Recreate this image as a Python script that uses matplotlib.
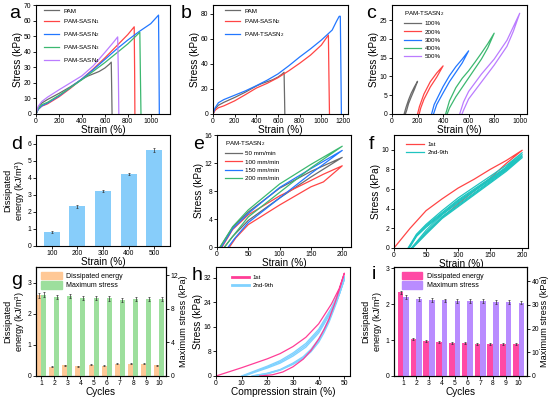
import matplotlib
matplotlib.use("Agg")
import matplotlib.pyplot as plt
from matplotlib.patches import Patch
from matplotlib.lines import Line2D

plt.rcParams['font.family'] = ['Liberation Sans', 'DejaVu Sans']
plt.rcParams['mathtext.fontset'] = 'custom'
plt.rcParams['mathtext.rm'] = 'Liberation Sans'
plt.rcParams['mathtext.it'] = 'Liberation Sans:italic'
plt.rcParams['mathtext.bf'] = 'Liberation Sans:bold'
plt.rcParams['axes.linewidth'] = 0.8

TICK = 4.9
LAB = 7.2
LAB2 = 6.6
LEG = 4.5

# ---------------- data: panel a ----------------
a_pam_x = [0, 20, 50, 100, 200, 300, 400, 450, 500, 550, 600, 640, 656, 660, 663]
a_pam_y = [0, 4, 7, 9.3, 13.2, 17.5, 22.3, 24.3, 25.8, 27.3, 29.5, 32, 33.3, 15, 0]
a_s1_x = [0, 20, 50, 100, 200, 300, 400, 500, 600, 700, 800, 856, 860, 862]
a_s1_y = [0, 3, 5, 6.5, 11, 16.5, 22.5, 29, 36, 43.5, 51, 56, 25, 0]
a_s2_x = [0, 20, 50, 100, 200, 300, 400, 500, 600, 700, 800, 900, 1000, 1068, 1072, 1075]
a_s2_y = [0, 3, 5.2, 7, 11.5, 17, 22.5, 28.5, 35, 41.5, 47.5, 53, 58, 63.5, 30, 0]
a_s3_x = [0, 20, 50, 100, 200, 300, 400, 500, 600, 700, 800, 905, 910, 915]
a_s3_y = [0, 3.5, 6, 7.5, 12, 17, 22, 27.5, 33, 39, 45, 52.5, 25, 0]
a_s4_x = [0, 20, 50, 100, 200, 300, 400, 500, 600, 680, 712, 718, 722]
a_s4_y = [0, 5, 8, 10.8, 15.5, 20, 24.5, 31, 39.5, 46.5, 49.5, 25, 0]

# ---------------- panel b ----------------
b_s2_x = [0, 20, 50, 100, 200, 300, 400, 500, 600, 700, 800, 900, 1000, 1065, 1070, 1075]
b_s2_y = [0, 3, 5, 6.5, 10.5, 15.5, 20.7, 24.5, 29, 34.5, 40.5, 47, 55, 63, 30, 0]
b_t2_x = [0, 20, 50, 100, 200, 300, 400, 500, 600, 700, 800, 900, 1000, 1100, 1140, 1165, 1175, 1180, 1185]
b_t2_y = [0, 5, 9, 11.5, 15, 18.5, 22.6, 27, 32, 38.5, 45.5, 52, 59, 67, 74, 78, 78, 40, 0]

# ---------------- panel c (loading + unloading loops) ----------------
c_100_x = [95, 110, 130, 150, 175, 200, 175, 150, 130, 115, 105]
c_100_y = [0, 1.8, 3.8, 5.5, 7.2, 8.7, 6.5, 4.5, 2.8, 1.0, 0]
c_200_x = [200, 215, 250, 300, 350, 400, 350, 300, 250, 225, 213]
c_200_y = [0, 2.0, 5.3, 8.6, 10.9, 12.8, 9.8, 7.2, 3.9, 1.6, 0]
c_300_x = [310, 330, 400, 450, 500, 550, 600, 550, 500, 450, 400, 350, 325]
c_300_y = [0, 2.5, 7.3, 10.2, 12.6, 14.6, 16.8, 13.6, 11.1, 8.6, 5.6, 2.5, 0]
c_400_x = [420, 450, 500, 550, 600, 650, 700, 750, 800, 750, 700, 650, 600, 550, 500, 450, 432]
c_400_y = [0, 3.5, 7.0, 9.5, 11.5, 13.8, 16.2, 18.7, 21.5, 17.6, 14.6, 12.1, 9.6, 7.1, 4.6, 1.6, 0]
c_500_x = [530, 560, 600, 700, 800, 900, 1000, 950, 900, 800, 700, 600, 560, 548]
c_500_y = [0, 3.2, 6.0, 10.6, 14.6, 19.6, 26.8, 22.0, 18.0, 13.0, 8.5, 4.0, 1.0, 0]
c_labels = ['100%', '200%', '300%', '400%', '500%']

# ---------------- panel d ----------------
d_strain = ['100', '200', '300', '400', '500']
d_energy = [0.82, 2.33, 3.2, 4.2, 5.62]
d_err = [0.03, 0.08, 0.06, 0.07, 0.1]

# ---------------- panel e ----------------
e_50_x = [5, 25, 50, 100, 150, 200, 150, 100, 50, 25, 12]
e_50_y = [0, 2.8, 5.0, 8.4, 10.8, 12.8, 10.0, 7.0, 3.8, 1.5, 0]
e_100_x = [8, 25, 50, 100, 150, 170, 200, 170, 150, 100, 50, 30, 20]
e_100_y = [0, 2.5, 4.6, 7.3, 9.5, 10.4, 11.6, 9.3, 8.6, 6.0, 3.2, 1.3, 0]
e_150_x = [7, 25, 50, 100, 150, 200, 150, 100, 50, 28, 18]
e_150_y = [0, 2.6, 4.8, 8.5, 11.2, 13.8, 10.5, 7.0, 3.5, 1.2, 0]
e_200_x = [5, 25, 50, 100, 150, 200, 150, 100, 50, 25, 12]
e_200_y = [0, 2.9, 5.3, 9.0, 11.8, 14.4, 11.3, 7.8, 4.3, 1.5, 0]
e_labels = ['50 mm/min', '100 mm/min', '150 mm/min', '200 mm/min']

# ---------------- panel f ----------------
f_1st_x = [0, 25, 50, 75, 100, 125, 150, 175, 200, 175, 150, 125, 100, 75, 50, 28]
f_1st_y = [0, 2.0, 3.8, 5.0, 6.1, 7.0, 8.0, 8.9, 9.95, 8.6, 7.1, 5.8, 4.5, 3.1, 1.5, 0]
f_c2_x = [22, 35, 50, 75, 100, 125, 150, 175, 200, 175, 150, 125, 100, 75, 50, 35, 27]
f_c2_y = [0, 1.4, 2.4, 3.8, 5.1, 6.2, 7.3, 8.4, 9.7, 8.2, 7.0, 5.8, 4.6, 3.4, 1.8, 0.6, 0]
f_c3_x = [23, 35, 50, 75, 100, 125, 150, 175, 200, 175, 150, 125, 100, 75, 50, 35, 28]
f_c3_y = [0, 1.3, 2.3, 3.6, 4.9, 6.0, 7.1, 8.2, 9.5, 8.0, 6.8, 5.6, 4.4, 3.2, 1.6, 0.5, 0]
f_c4_x = [23, 35, 50, 75, 100, 125, 150, 175, 200, 175, 150, 125, 100, 75, 50, 35, 28]
f_c4_y = [0, 1.2, 2.2, 3.5, 4.8, 5.9, 7.0, 8.1, 9.35, 7.9, 6.7, 5.5, 4.3, 3.1, 1.5, 0.5, 0]
f_c5_x = [24, 35, 50, 75, 100, 125, 150, 175, 200, 175, 150, 125, 100, 75, 50, 35, 29]
f_c5_y = [0, 1.2, 2.1, 3.4, 4.7, 5.8, 6.9, 8.0, 9.2, 7.8, 6.6, 5.4, 4.2, 3.0, 1.4, 0.4, 0]

# ---------------- panel g ----------------
cycles = [1, 2, 3, 4, 5, 6, 7, 8, 9, 10]
g_energy = [2.6, 0.3, 0.35, 0.31, 0.36, 0.33, 0.4, 0.39, 0.4, 0.35]
g_energy_err = [0.08, 0.01, 0.015, 0.015, 0.015, 0.015, 0.015, 0.015, 0.015, 0.015]
g_stress = [9.7, 9.4, 9.5, 9.3, 9.3, 9.25, 9.1, 9.2, 9.2, 9.15]
g_stress_err = [0.3, 0.25, 0.25, 0.25, 0.25, 0.25, 0.25, 0.25, 0.25, 0.25]

# ---------------- panel h ----------------
h_1st_x = [0, 10, 20, 25, 30, 35, 40, 45, 48, 50, 48, 46, 44, 42, 40, 37, 34, 30, 26, 22, 17]
h_1st_y = [0, 2.7, 5.6, 7.3, 9.6, 12.6, 17, 23.5, 28.5, 33.5, 28, 23, 18.5, 15, 12, 8.3, 5.5, 3, 1.3, 0.4, 0]
h_c2_x = [10, 15, 20, 25, 30, 35, 40, 45, 48, 50, 47, 44, 42, 40, 37, 34, 30, 25, 20, 14]
h_c2_y = [0, 1.6, 3.2, 5.0, 7.5, 10.6, 15.2, 22.2, 27.5, 32.5, 25, 18.5, 15, 12, 8.7, 6.3, 4.2, 2.1, 0.9, 0]
h_c3_x = [10.5, 15, 20, 25, 30, 35, 40, 45, 48, 50, 47, 44, 42, 40, 37, 34, 30, 25, 20, 14.5]
h_c3_y = [0, 1.4, 2.9, 4.6, 7.0, 10.0, 14.6, 21.6, 27, 32, 24.5, 18, 14.5, 11.5, 8.3, 6.0, 4.0, 2.0, 0.8, 0]
h_c4_x = [11, 15, 20, 25, 30, 35, 40, 45, 48, 50, 47, 44, 42, 40, 37, 34, 30, 25, 20, 15]
h_c4_y = [0, 1.2, 2.6, 4.2, 6.5, 9.4, 14.0, 21.0, 26.5, 31.5, 24, 17.5, 14, 11, 7.9, 5.7, 3.8, 1.9, 0.7, 0]

# ---------------- panel i ----------------
i_energy = [2.33, 1.04, 0.98, 0.94, 0.91, 0.91, 0.88, 0.88, 0.88, 0.89]
i_energy_err = [0.04, 0.03, 0.03, 0.03, 0.03, 0.03, 0.03, 0.03, 0.03, 0.03]
i_stress = [33.3, 32.6, 32.2, 31.9, 31.6, 31.5, 31.5, 31.3, 31.2, 31.0]
i_stress_err = [0.8, 0.8, 0.8, 0.8, 0.8, 0.8, 0.8, 0.8, 0.8, 0.8]

W, H = 550, 397
fig = plt.figure(figsize=(W / 100, H / 100), dpi=100)


def rect(l, t, r, b):
    return [l / W, 1 - b / H, (r - l) / W, (b - t) / H]


def style(ax):
    ax.tick_params(direction='out', length=2, width=0.6, labelsize=TICK, pad=1.2)


def letter(x, y, s):
    fig.text(x / W, 1 - y / H, s, fontsize=14, va='baseline', ha='left')


def leg(ax, **kw):
    lg = ax.legend(frameon=False, fontsize=LEG, handlelength=2.4, handletextpad=0.6,
                   labelspacing=0.62, borderaxespad=0.3, **kw)
    return lg


def energy_label(ax):
    ax.set_ylabel('Dissipated\nenergy (kJ/m$^3$)', fontsize=LAB2, labelpad=0.5, linespacing=1.15)

GRAY = '#6b6b6b'
RED = '#ff4545'
BLUE = '#2277ff'
GREEN = '#3cb870'
VIOL = '#bb7cff'
LW = 0.9

# ---- a ----
ax = fig.add_axes(rect(36, 5, 170, 114))
ax.plot(a_pam_x, a_pam_y, color=GRAY, lw=LW, label='PAM')
ax.plot(a_s1_x, a_s1_y, color=RED, lw=LW, label='PAM-SASN$_1$')
ax.plot(a_s2_x, a_s2_y, color=BLUE, lw=LW, label='PAM-SASN$_2$')
ax.plot(a_s3_x, a_s3_y, color=GREEN, lw=LW, label='PAM-SASN$_3$')
ax.plot(a_s4_x, a_s4_y, color=VIOL, lw=LW, label='PAM-SASN$_4$')
ax.set_xlim(0, 1168)
ax.set_ylim(0, 70)
ax.set_xticks([0, 200, 400, 600, 800, 1000])
ax.set_yticks(range(0, 71, 10))
ax.set_xlabel('Strain (%)', fontsize=LAB, labelpad=0)
ax.set_ylabel('Stress (kPa)', fontsize=LAB, labelpad=1)
style(ax)
leg(ax, loc='upper left', bbox_to_anchor=(0.03, 1.01))
letter(9, 18, 'a')

# ---- b ----
ax = fig.add_axes(rect(213, 5, 348, 114))
ax.plot(a_pam_x, a_pam_y, color=GRAY, lw=LW, label='PAM')
ax.plot(b_s2_x, b_s2_y, color=RED, lw=LW, label='PAM-SASN$_2$')
ax.plot(b_t2_x, b_t2_y, color=BLUE, lw=LW, label='PAM-TSASN$_2$')
ax.set_xlim(0, 1246)
ax.set_ylim(0, 87)
ax.set_xticks(range(0, 1201, 200))
ax.set_yticks([0, 20, 40, 60, 80])
ax.set_xlabel('Strain (%)', fontsize=LAB, labelpad=0)
ax.set_ylabel('Stress (kPa)', fontsize=LAB, labelpad=1)
style(ax)
leg(ax, loc='upper left', bbox_to_anchor=(0.06, 1.01))
letter(181, 18, 'b')

# ---- c ----
ax = fig.add_axes(rect(392, 5, 527, 114))
for xs, ys, c, lb in [(c_100_x, c_100_y, GRAY, c_labels[0]), (c_200_x, c_200_y, RED, c_labels[1]),
                      (c_300_x, c_300_y, BLUE, c_labels[2]), (c_400_x, c_400_y, GREEN, c_labels[3]),
                      (c_500_x, c_500_y, VIOL, c_labels[4])]:
    ax.plot(xs, ys, color=c, lw=LW, label=lb)
ax.set_xlim(0, 1057)
ax.set_ylim(0, 29)
ax.set_xticks(range(0, 1001, 200))
ax.set_yticks([0, 5, 10, 15, 20, 25])
ax.set_xlabel('Strain (%)', fontsize=LAB, labelpad=0)
ax.set_ylabel('Stress (kPa)', fontsize=LAB, labelpad=1)
style(ax)
lg = ax.legend(frameon=False, fontsize=LEG, handlelength=2.6, handletextpad=0.6, labelspacing=0.45,
               borderaxespad=0.3, loc='upper left', bbox_to_anchor=(0.06, 1.0),
               title='PAM-TSASN$_2$', title_fontsize=LEG)
lg._legend_box.align = 'left'
letter(366, 18, 'c')

# ---- d ----
ax = fig.add_axes(rect(36, 135, 170, 246))
pos = list(range(len(d_strain)))
ax.bar(pos, d_energy, width=0.63, color='#87cdfa', yerr=d_err,
       error_kw=dict(ecolor='#333333', elinewidth=0.5, capsize=1, capthick=0.5))
ax.set_xticks(pos)
ax.set_xticklabels(d_strain)
ax.set_xlim(-0.61, 4.61)
ax.set_ylim(0, 6.5)
ax.set_yticks(range(0, 7))
ax.set_xlabel('Strain (%)', fontsize=LAB, labelpad=0)
energy_label(ax)
style(ax)
letter(11, 149, 'd')

# ---- e ----
ax = fig.add_axes(rect(217, 135, 351, 247))
for xs, ys, c, lb in [(e_50_x, e_50_y, GRAY, e_labels[0]), (e_100_x, e_100_y, RED, e_labels[1]),
                      (e_150_x, e_150_y, BLUE, e_labels[2]), (e_200_x, e_200_y, GREEN, e_labels[3])]:
    ax.plot(xs, ys, color=c, lw=LW, label=lb)
ax.set_xlim(0, 214)
ax.set_ylim(0, 16)
ax.set_xticks([0, 50, 100, 150, 200])
ax.set_yticks([0, 4, 8, 12, 16])
ax.set_xlabel('Strain (%)', fontsize=LAB, labelpad=0)
ax.set_ylabel('Stress (kPa)', fontsize=LAB, labelpad=1)
style(ax)
lg = ax.legend(frameon=False, fontsize=LEG, handlelength=2.6, handletextpad=0.6, labelspacing=0.45,
               borderaxespad=0.3, loc='upper left', bbox_to_anchor=(0.03, 1.0),
               title='PAM-TSASN$_2$', title_fontsize=LEG)
lg._legend_box.align = 'left'
letter(193, 149, 'e')

# ---- f ----
ax = fig.add_axes(rect(394, 135, 528, 248))
CYAN = '#1fc4c0'
ax.plot(f_1st_x, f_1st_y, color=RED, lw=LW, label='1st')
ax.plot(f_c2_x, f_c2_y, color=CYAN, lw=LW, label='2nd-9th')
ax.plot(f_c3_x, f_c3_y, color=CYAN, lw=LW)
ax.plot(f_c4_x, f_c4_y, color=CYAN, lw=LW)
ax.plot(f_c5_x, f_c5_y, color=CYAN, lw=LW)
ax.set_xlim(0, 209)
ax.set_ylim(0, 11.5)
ax.set_xticks([0, 50, 100, 150, 200])
ax.set_yticks([0, 2, 4, 6, 8, 10])
ax.set_xlabel('Strain (%)', fontsize=LAB, labelpad=0)
ax.set_ylabel('Stress (kPa)', fontsize=LAB, labelpad=1)
style(ax)
ax.legend(frameon=False, fontsize=LEG, handlelength=2.8, handletextpad=0.6, labelspacing=0.45,
          borderaxespad=0.3, loc='upper left', bbox_to_anchor=(0.06, 0.98))
letter(369, 149, 'f')

# ---- g ----
ax = fig.add_axes(rect(36, 267, 166, 376))
ax2 = ax.twinx()
bw = 0.38
ORG = '#ffc896'
LGR = '#9ddf9d'
ekw = dict(ecolor='#333333', elinewidth=0.5, capsize=1, capthick=0.5)
ax.bar([c - bw / 2 for c in cycles], g_energy, width=bw, color=ORG, yerr=g_energy_err, error_kw=ekw, zorder=2)
ax2.bar([c + bw / 2 for c in cycles], g_stress, width=bw, color=LGR, yerr=g_stress_err, error_kw=ekw)
ax.set_xlim(0.62, 10.5)
ax.set_ylim(0, 3.5)
ax2.set_ylim(0, 13)
ax.set_yticks([0, 1, 2, 3])
ax2.set_yticks([0, 4, 8, 12])
ax.set_xticks(cycles)
ax.set_xlabel('Cycles', fontsize=LAB, labelpad=0)
energy_label(ax)
ax2.set_ylabel('Maximum stress (kPa)', fontsize=LAB2, labelpad=1)
style(ax)
style(ax2)
ax2.legend(handles=[Patch(color=ORG, label='Dissipated energy'), Patch(color=LGR, label='Maximum stress')],
           frameon=False, fontsize=5.0, loc='upper left', bbox_to_anchor=(0.0, 1.0),
           handlelength=3.0, handleheight=1.3, labelspacing=0.2, handletextpad=0.6, borderaxespad=0.3)
letter(11, 285, 'g')

# ---- h ----
ax = fig.add_axes(rect(216, 267, 350, 376))
PINK = '#ff3d96'
LBLU = '#80d2ff'
ax.plot(h_c2_x, h_c2_y, color=LBLU, lw=1.0)
ax.plot(h_c3_x, h_c3_y, color=LBLU, lw=1.0)
ax.plot(h_c4_x, h_c4_y, color=LBLU, lw=1.0)
ax.plot(h_1st_x, h_1st_y, color=PINK, lw=LW)
ax.set_xlim(0, 52.2)
ax.set_ylim(0, 35.5)
ax.set_xticks([0, 10, 20, 30, 40, 50])
ax.set_yticks([0, 8, 16, 24, 32])
ax.set_xlabel('Compression strain (%)', fontsize=LAB, labelpad=0)
ax.set_ylabel('Stress (kPa)', fontsize=LAB, labelpad=1)
style(ax)
ax.legend(handles=[Line2D([], [], color=PINK, lw=2, label='1st'), Line2D([], [], color=LBLU, lw=2, label='2nd-9th')],
          frameon=False, fontsize=LEG, loc='upper left', bbox_to_anchor=(0.08, 0.98),
          handlelength=2.6, labelspacing=0.45, handletextpad=0.6)
letter(192, 280, 'h')

# ---- i ----
ax = fig.add_axes(rect(394, 267, 527, 376))
ax2 = ax.twinx()
bwi = 0.44
IPK = '#ff4aa5'
IVI = '#b98cff'
ax.bar([c - bwi / 2 for c in cycles], i_energy, width=bwi, color=IPK, yerr=i_energy_err, error_kw=ekw, zorder=2)
ax2.bar([c + bwi / 2 for c in cycles], i_stress, width=bwi, color=IVI, yerr=i_stress_err, error_kw=ekw)
ax.set_xlim(0.27, 10.66)
ax.set_ylim(0, 3.03)
ax2.set_ylim(0, 46)
ax.set_yticks([0, 1, 2, 3])
ax2.set_yticks([0, 10, 20, 30, 40])
ax.set_xticks(cycles)
ax.set_xlabel('Cycles', fontsize=LAB, labelpad=0)
energy_label(ax)
ax2.set_ylabel('Maximum stress (kPa)', fontsize=LAB2, labelpad=0.5)
style(ax)
style(ax2)
ax2.legend(handles=[Patch(color=IPK, label='Dissipated energy'), Patch(color=IVI, label='Maximum stress')],
           frameon=False, fontsize=5.0, loc='upper left', bbox_to_anchor=(0.02, 1.0),
           handlelength=3.0, handleheight=1.3, labelspacing=0.2, handletextpad=0.6, borderaxespad=0.3)
letter(372, 279, 'i')

fig.savefig('out.png', dpi=100)
